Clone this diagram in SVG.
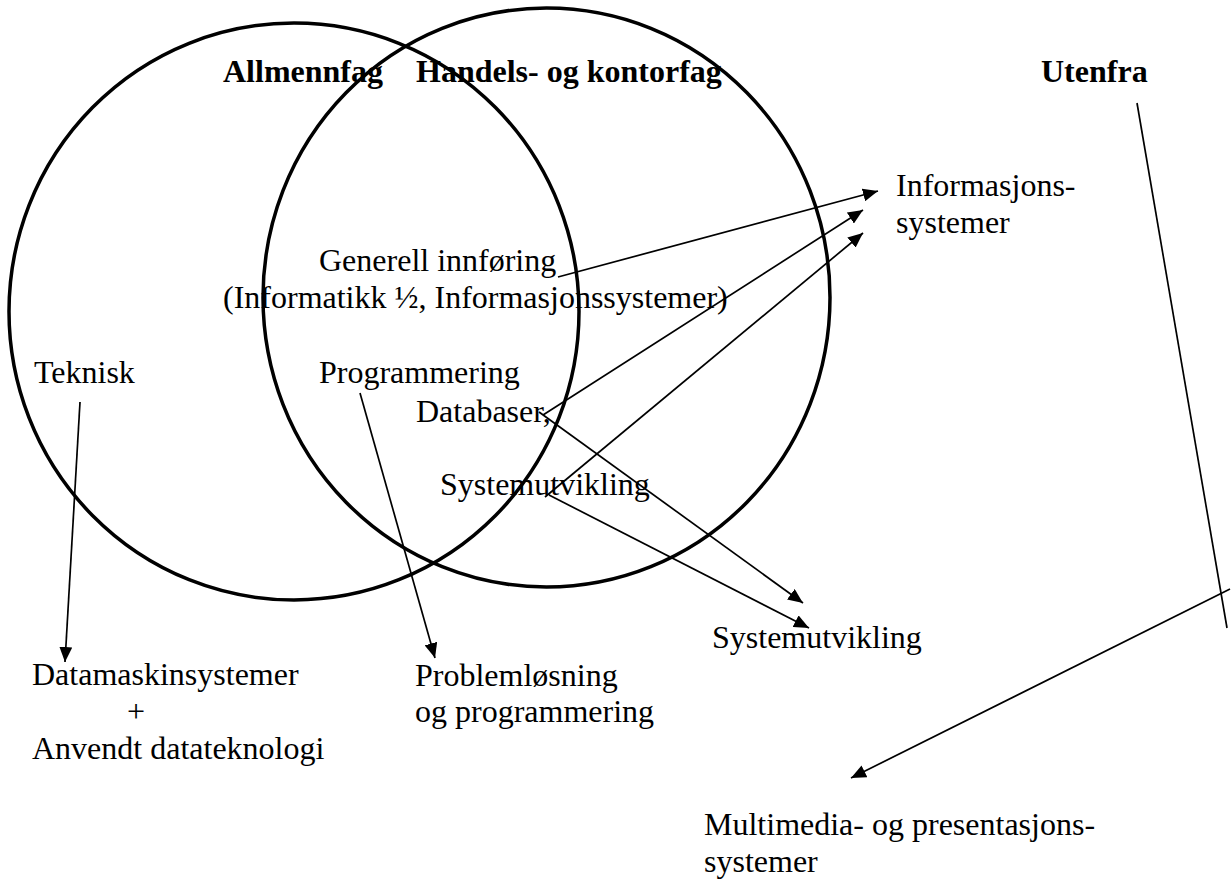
<svg xmlns="http://www.w3.org/2000/svg" width="1232" height="881" viewBox="0 0 1232 881">
  <style>
    text { font-family: "Liberation Serif", "Times New Roman", serif; font-size: 32px; fill: #000; }
    .title { font-weight: bold; }
    .ring { fill: none; stroke: #000; stroke-width: 3.5; }
    .link { fill: none; stroke: #000; stroke-width: 1.7; }
    .arrow { marker-end: url(#head); }
  </style>
  <defs>
    <marker id="head" markerUnits="userSpaceOnUse" markerWidth="15" markerHeight="13" refX="15" refY="6.5" orient="auto">
      <path d="M0,0 L15,6.5 L0,13 z" fill="#000"/>
    </marker>
  </defs>
  <rect width="1232" height="881" fill="#fff"/>

  <!-- subject areas -->
  <g id="allmennfag">
    <ellipse class="ring" cx="294" cy="311.5" rx="285" ry="288.5"/>
    <text class="title" x="223" y="82">Allmennfag</text>
  </g>
  <g id="handels-og-kontorfag">
    <ellipse class="ring" cx="546.5" cy="297.5" rx="283.5" ry="289.5"/>
    <text class="title" x="416" y="82">Handels- og kontorfag</text>
  </g>
  <g id="utenfra">
    <text class="title" x="1041" y="82">Utenfra</text>
  </g>

  <!-- topics inside the areas -->
  <g id="generell">
    <text x="319" y="271">Generell innføring</text>
    <text x="223" y="308">(Informatikk ½, Informasjonssystemer)</text>
  </g>
  <g id="teknisk"><text x="34" y="383">Teknisk</text></g>
  <g id="programmering"><text x="319" y="383">Programmering</text></g>
  <g id="databaser"><text x="416" y="422">Databaser,</text></g>
  <g id="systemutvikling-inner"><text x="440" y="495">Systemutvikling</text></g>

  <!-- resulting courses -->
  <g id="informasjonssystemer">
    <text x="896" y="196">Informasjons-</text>
    <text x="896" y="233">systemer</text>
  </g>
  <g id="systemutvikling"><text x="712" y="648">Systemutvikling</text></g>
  <g id="datamaskinsystemer">
    <text x="32" y="685">Datamaskinsystemer</text>
    <text x="127" y="722">+</text>
    <text x="32" y="759">Anvendt datateknologi</text>
  </g>
  <g id="problemlosning">
    <text x="415" y="686">Problemløsning</text>
    <text x="415" y="722">og programmering</text>
  </g>
  <g id="multimedia">
    <text x="704" y="835">Multimedia- og presentasjons-</text>
    <text x="704" y="872">systemer</text>
  </g>

  <!-- connectors -->
  <g id="connectors">
    <line class="link arrow" x1="80" y1="402" x2="65" y2="662"/>
    <line class="link arrow" x1="360" y1="393" x2="435" y2="658"/>
    <line class="link arrow" x1="558" y1="277" x2="878" y2="191"/>
    <line class="link arrow" x1="543" y1="415" x2="863" y2="210"/>
    <line class="link arrow" x1="545" y1="497" x2="863" y2="233"/>
    <line class="link arrow" x1="539" y1="412" x2="803" y2="603"/>
    <line class="link arrow" x1="549" y1="495" x2="809" y2="628"/>
    <line class="link" x1="1137" y1="103" x2="1227" y2="628"/>
    <line class="link arrow" x1="1230" y1="589" x2="851" y2="778"/>
  </g>
</svg>
